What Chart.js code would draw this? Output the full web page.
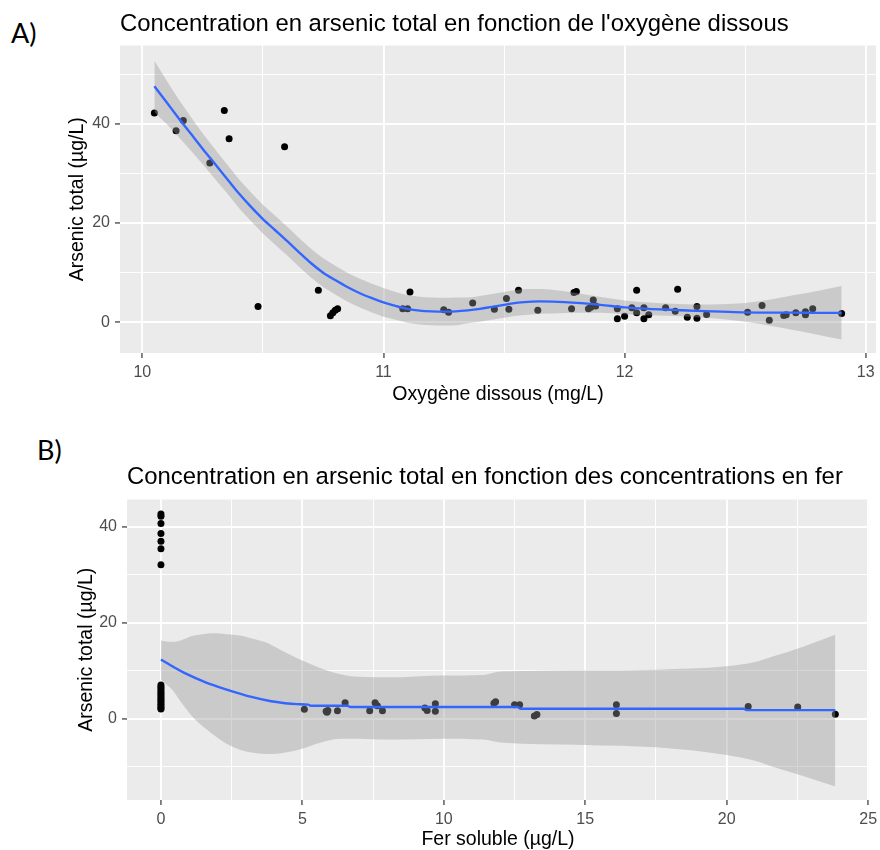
<!DOCTYPE html>
<html><head><meta charset="utf-8">
<script src="https://cdn.jsdelivr.net/npm/chart.js@4.4.1/dist/chart.umd.min.js"></script>
<style>
html,body{margin:0;padding:0;background:#fff;overflow:hidden;width:880px;height:850px}
#cA{position:absolute;left:0;top:0}
#cB{position:absolute;left:0;top:410px}
.lbl{position:absolute;font-family:Lato,'Open Sans',sans-serif;font-size:27px;line-height:1;color:#000}
</style></head><body>
<div class="lbl" style="left:11px;top:19px">A)</div>
<div class="lbl" style="left:37px;top:436px">B)</div>
<canvas id="cA" width="880" height="410"></canvas>
<canvas id="cB" width="880" height="440"></canvas>
<script>
// ---------- Panel A : arsenic vs dissolved oxygen ----------
const titleA = "Concentration en arsenic total en fonction de l'oxygène dissous";
const xTitleA = "Oxygène dissous (mg/L)";
const yTitle = "Arsenic total (µg/L)";
const oxyA = [10.05,10.14,10.17,10.28,10.34,10.36,10.48,10.59,10.73,10.78,10.79,10.80,10.81,11.08,11.10,11.11,11.25,11.27,11.37,11.46,11.51,11.52,11.56,11.64,11.78,11.79,11.80,11.85,11.86,11.87,11.88,11.97,11.97,12.00,12.03,12.05,12.05,12.08,12.08,12.10,12.17,12.21,12.22,12.26,12.30,12.30,12.34,12.51,12.57,12.60,12.66,12.67,12.71,12.75,12.75,12.78,12.90];
const asA  = [42.2,38.6,40.7,32.1,42.7,37.0,3.2,35.4,6.45,1.3,1.9,2.4,2.7,2.7,2.7,6.1,2.5,2.0,3.9,2.6,4.8,2.6,6.45,2.4,2.7,6.0,6.2,2.7,3.0,4.5,3.3,2.7,0.7,1.2,2.9,6.45,1.9,2.9,0.7,1.5,2.9,2.2,6.65,1.0,3.2,0.8,1.55,2.0,3.4,0.4,1.35,1.5,1.9,2.1,1.5,2.7,1.75];
const fitOxyA = [10.05,10.10,10.15,10.20,10.25,10.30,10.35,10.40,10.45,10.50,10.55,10.60,10.65,10.70,10.75,10.80,10.85,10.90,10.95,11.00,11.05,11.10,11.15,11.20,11.25,11.30,11.35,11.40,11.45,11.50,11.55,11.60,11.65,11.70,11.80,11.90,12.00,12.10,12.20,12.30,12.40,12.50,12.60,12.70,12.80,12.90];
const fitAsA  = [47.6,44.4,41.2,38.1,35.0,32.0,29.0,26.0,23.3,20.8,18.6,16.4,14.1,11.9,10.0,8.5,7.1,5.9,4.9,4.0,3.3,2.7,2.35,2.2,2.15,2.2,2.4,2.7,3.1,3.5,3.9,4.1,4.2,4.15,3.9,3.5,3.0,2.7,2.5,2.3,2.15,2.0,1.95,1.95,1.9,1.9];
const lowA    = [42.4,40.0,37.4,34.7,31.9,29.0,26.1,23.1,20.4,17.9,15.7,13.5,11.2,9.0,7.1,5.6,4.2,3.0,2.0,1.1,0.5,-0.1,-0.45,-0.6,-0.65,-0.6,-0.2,0.1,0.5,0.9,1.3,1.5,1.7,1.75,1.9,1.9,1.6,1.4,1.25,1.0,0.65,0.1,-0.65,-1.55,-2.5,-3.5];
const upA     = [52.8,48.8,45.0,41.5,38.1,35.0,31.9,28.9,26.2,23.7,21.5,19.3,17.0,14.8,12.9,11.4,10.0,8.8,7.8,6.9,6.1,5.5,5.15,5.0,4.95,5.0,5.0,5.3,5.7,6.1,6.5,6.7,6.7,6.55,5.9,5.1,4.4,4.0,3.75,3.6,3.65,3.9,4.55,5.45,6.3,7.3];
const xTicksA = [10,10.5,11,11.5,12,12.5,13];
const xLabelsA = [10,11,12,13];
const yTicksA = [0,10,20,30,40,50];
const yLabelsA = [0,20,40];

// ---------- Panel B : arsenic vs soluble iron ----------
const titleB = "Concentration en arsenic total en fonction des concentrations en fer";
const xTitleB = "Fer soluble (µg/L)";
const ferB = [0,0,0,0,0,0,0,0,0,0,0,0,0,0,0,0,0,0,0,0,0,5.07,5.84,5.87,5.90,6.24,6.51,7.38,7.57,7.65,7.83,9.33,9.41,9.70,9.70,11.77,11.83,12.50,12.68,13.20,13.29,16.10,16.10,20.76,22.51,23.84];
const asB  = [42.7,42.2,40.7,38.6,37.0,35.4,32.1,7.0,6.6,6.2,5.8,5.4,5.0,4.6,4.2,3.8,3.4,3.0,2.6,2.2,2.0,1.95,1.5,1.3,1.7,1.6,3.3,1.6,3.3,2.65,1.6,2.2,1.7,3.1,1.5,3.2,3.5,2.9,2.9,0.55,0.85,2.9,1.05,2.5,2.4,0.9];
const fitFerB = [0,0.4,0.9,1.6,2.3,3.2,3.9,4.8,5.2,5.3,6.6,6.7,12.6,12.7,20.6,20.7,23.84];
const fitAsB  = [12.3,10.9,9.3,7.5,6.1,4.5,3.6,3.0,2.9,2.65,2.65,2.4,2.4,2.05,2.05,1.75,1.75];
const ribFerB = [0,0.4,0.7,1.1,1.6,1.9,2.3,2.8,3.2,3.7,4.2,4.6,5.0,5.6,6.3,7.0,8.0,10.0,11.4,12.0,15.0,17.5,20.0,21.0,21.6,22.7,23.84];
const upB  = [16.3,16.0,16.3,17.2,17.7,17.8,17.6,17.3,16.7,15.9,14.4,13.2,12.1,10.6,9.3,8.7,8.6,9.0,9.1,9.8,10.0,10.2,10.9,11.8,12.9,15.0,17.5];
const lowB = [8.1,6.0,3.5,0.5,-2.2,-3.6,-5.2,-6.5,-7.1,-7.4,-7.3,-6.9,-6.3,-5.1,-4.2,-4.2,-4.4,-4.2,-4.4,-5.0,-5.5,-6.0,-7.6,-8.8,-10.0,-12.0,-14.2];
const xTicksB = [0,2.5,5,7.5,10,12.5,15,17.5,20,22.5,25];
const xLabelsB = [0,5,10,15,20,25];
const yTicksB = [-10,0,10,20,30,40];
const yLabelsB = [0,20,40];

// ---------- helpers ----------
const FONT = "'Liberation Sans', Arial, sans-serif";
const has = (arr, v) => arr.some(a => Math.abs(a - v) < 1e-9);
const pts = (xs, ys) => xs.map((x, i) => ({x: x, y: ys[i]}));

const panelBg = {
  id: 'panelBg',
  beforeDraw(chart) {
    const {ctx, chartArea: a} = chart;
    ctx.save();
    ctx.fillStyle = '#EBEBEB';
    ctx.fillRect(a.left, a.top, a.right - a.left, a.bottom - a.top);
    ctx.restore();
  }
};

function zeroPad(s) { s.paddingLeft = 0; s.paddingRight = 0; s.paddingTop = 0; s.paddingBottom = 0; }

function axis(cfg) {
  return {
    type: 'linear', min: cfg.min, max: cfg.max,
    afterBuildTicks: s => { s.ticks = cfg.ticks.map(v => ({value: v})); },
    afterFit: s => { if (cfg.w !== undefined) s.width = cfg.w; if (cfg.h !== undefined) s.height = cfg.h; zeroPad(s); },
    ticks: {
      autoSkip: false, maxRotation: 0, minRotation: 0, color: '#4D4D4D', padding: 5,
      font: {size: 16, family: FONT},
      callback: v => has(cfg.labels, v) ? String(v) : ''
    },
    grid: {
      color: '#FFFFFF',
      lineWidth: c => has(cfg.labels, c.tick.value) ? 1.9 : 0.95,
      tickLength: 5,
      tickColor: c => has(cfg.labels, c.tick.value) ? '#333333' : 'rgba(0,0,0,0)',
      tickWidth: 1.2
    },
    border: {display: false},
    title: {display: true, text: cfg.title, color: '#000', font: {size: 19.5, family: FONT, lineHeight: 1}, padding: cfg.tpad}
  };
}

function makeChart(id, o) {
  return new Chart(document.getElementById(id), {
    type: 'scatter',
    data: {
      datasets: [
        {data: pts(o.px, o.py), showLine: false, pointRadius: 3.5, pointBackgroundColor: '#000', pointBorderWidth: 0, order: 3},
        {data: pts(o.rx, o.rlow), showLine: true, pointRadius: 0, borderWidth: 0, borderColor: 'rgba(0,0,0,0)', fill: false, cubicInterpolationMode: 'monotone', order: 2},
        {data: pts(o.rx, o.rup), showLine: true, pointRadius: 0, borderWidth: 0, borderColor: 'rgba(0,0,0,0)', fill: '-1', backgroundColor: 'rgba(153,153,153,0.4)', cubicInterpolationMode: 'monotone', order: 2},
        {data: pts(o.fx, o.fy), showLine: true, pointRadius: 0, borderColor: '#3366FF', borderWidth: 2.4, fill: false, cubicInterpolationMode: 'monotone', order: 1}
      ]
    },
    options: {
      responsive: false, animation: false, events: [],
      layout: {padding: o.pad},
      plugins: {
        legend: {display: false}, tooltip: {enabled: false},
        title: {display: true, text: o.title, align: 'start', fullSize: false, color: '#000',
          font: {size: 23.9, family: FONT, weight: 'normal', lineHeight: 1}, padding: o.titlePad}
      },
      scales: {
        x: axis({min: o.xmin, max: o.xmax, ticks: o.xticks, labels: o.xlabels, h: o.xh, title: o.xtitle, tpad: {top: 0, bottom: o.xtb}}),
        y: axis({min: o.ymin, max: o.ymax, ticks: o.yticks, labels: o.ylabels, w: o.yw, title: yTitle, tpad: {top: o.ytt, bottom: 0}})
      }
    },
    plugins: [panelBg]
  });
}

makeChart('cA', {
  px: oxyA, py: asA, rx: fitOxyA, rlow: lowA, rup: upA, fx: fitOxyA, fy: fitAsA,
  title: titleA, titlePad: {top: 12.3, bottom: 9.3}, pad: {left: 0, right: 0, top: 0, bottom: 0},
  xmin: 9.9075, xmax: 13.0425, xticks: xTicksA, xlabels: xLabelsA, xh: 57, xtitle: xTitleA, xtb: 5.5,
  ymin: -6.2, ymax: 55.8, yticks: yTicksA, ylabels: yLabelsA, yw: 120, ytt: 68
});

makeChart('cB', {
  px: ferB, py: asB, rx: ribFerB, rlow: lowB, rup: upB, fx: fitFerB, fy: fitAsB,
  title: titleB, titlePad: {top: 55.3, bottom: 10.3}, pad: {left: 0, right: 11, top: 0, bottom: 0},
  xmin: -1.2, xmax: 25.03, xticks: xTicksB, xlabels: xLabelsB, xh: 50, xtitle: xTitleB, xtb: 1.0,
  ymin: -17.0, ymax: 45.7, yticks: yTicksB, ylabels: yLabelsB, yw: 127, ytt: 77
});
</script>
</body></html>
